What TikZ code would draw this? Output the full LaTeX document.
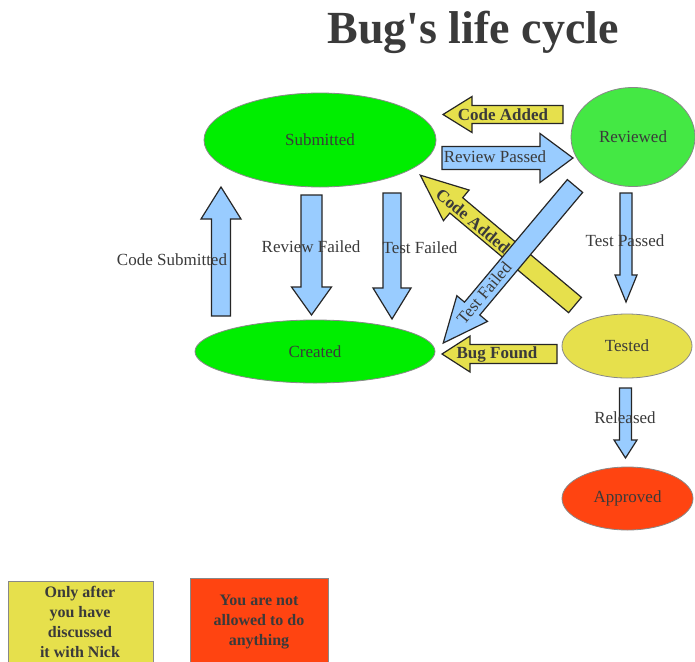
\documentclass[tikz,border=0pt]{standalone}
\usepackage{fontspec}
\setmainfont{Liberation Serif}
\newfontfamily\titlefont{Liberation Serif}[Ligatures=TeXOff]
\usetikzlibrary{shapes.geometric}
\definecolor{txt}{HTML}{3A3A3A}
\definecolor{greenA}{HTML}{00EE00}
\definecolor{greenB}{HTML}{44E844}
\definecolor{yelA}{HTML}{E6E04C}
\definecolor{redA}{HTML}{FF4411}
\definecolor{bluA}{HTML}{99CCFF}
\definecolor{outl}{HTML}{888888}
\tikzset{
  state/.style={ellipse, draw=outl, line width=0.8pt, inner sep=0pt, text=txt,
    font=\fontsize{17}{20}\selectfont},
  bluearrow/.style={fill=bluA, draw=black!85, line width=1.2pt, line join=miter},
  yelarrow/.style={fill=yelA, draw=black!85, line width=1.2pt, line join=miter},
  lbl/.style={inner sep=0pt, text=txt, font=\fontsize{17}{20}\selectfont},
  blbl/.style={inner sep=0pt, text=txt, font=\fontsize{17}{20}\selectfont\bfseries},
  notebox/.style={draw=outl, line width=0.8pt, inner sep=0pt},
  notetext/.style={inner sep=0pt, align=center, text=txt,
    font=\fontsize{16}{20}\selectfont\bfseries},
}
% style, tail, angle, length, shaft half width, head half width, head length
\newcommand\blockarrow[7]{%
  \draw[#1, shift={(#2)}, rotate=#3] (0,-#5) -- ({#4-#7},-#5) -- ({#4-#7},-#6)
    -- (#4,0) -- ({#4-#7},#6) -- ({#4-#7},#5) -- (0,#5) -- cycle;}
\begin{document}
\begin{tikzpicture}[x=1pt,y=-1pt]
\useasboundingbox[fill=white] (0,0) rectangle (695,661);

\node[inner sep=0pt, text=txt, font=\titlefont\fontsize{46}{50}\selectfont\bfseries] (title) at (473,32) {Bug's life cycle};

% states
\node[state, fill=greenA, minimum width=232pt, minimum height=94pt] (submitted) at (320,140) {Submitted};
\node[state, fill=greenB, minimum width=124pt, minimum height=99pt] (reviewed) at (633,137) {Reviewed};
\node[state, fill=greenA, minimum width=240pt, minimum height=63pt] (created) at (315,351.5) {Created};
\node[state, fill=yelA, minimum width=130pt, minimum height=64pt] (tested) at (627,346) {Tested};
\node[state, fill=redA, minimum width=131pt, minimum height=63pt] (approved) at (627.5,498.5) {Approved};

% block arrows
\blockarrow{bluearrow}{221,316}{90}{129}{9.5}{20}{32}
\blockarrow{bluearrow}{311.5,195}{-90}{120}{10.5}{20}{28}
\blockarrow{bluearrow}{392,193}{-90}{126}{9}{19}{31}
\blockarrow{yelarrow}{563,114.5}{180}{120}{9}{18}{29}
\blockarrow{bluearrow}{442,158}{0}{131}{11.5}{24.5}{33}
\blockarrow{yelarrow}{575,305}{140}{202}{10}{20}{47}
\blockarrow{bluearrow}{575,186}{-130}{205}{10}{20}{45}
\blockarrow{yelarrow}{557,354}{180}{115}{9.5}{18}{28}
\blockarrow{bluearrow}{626,193}{-90}{109}{6}{11}{27}
\blockarrow{bluearrow}{625.5,388}{-90}{70}{6}{11.5}{18}

% labels
\node[lbl] (lcs) at (172,260) {Code Submitted};
\node[lbl] (lrf) at (311,247) {Review Failed};
\node[lbl] (ltf) at (420,248) {Test Failed};
\node[blbl] (lca) at (503,115) {Code Added};
\node[lbl] (lrp) at (495,157) {Review Passed};
\node[blbl, rotate=-40] (lca2) at (473,221) {Code Added};
\node[lbl, rotate=50] (ltf2) at (484,293) {Test Failed};
\node[blbl] (lbf) at (497,354) {Bug Found};
\node[lbl] (ltp) at (625,241) {Test Passed};
\node[lbl] (lrel) at (625,418) {Released};

% notes
\node[notebox, fill=yelA, minimum width=145pt, minimum height=89pt] (note1) at (80.5,625.5) {};
\node[notetext] (note1t) at (80,622) {Only after\\you have\\discussed\\it with Nick};
\node[notebox, fill=redA, minimum width=138pt, minimum height=92pt] (note2) at (259,624) {};
\node[notetext] (note2t) at (259,622) {You are not\\allowed to do\\anything};
\end{tikzpicture}
\end{document}
